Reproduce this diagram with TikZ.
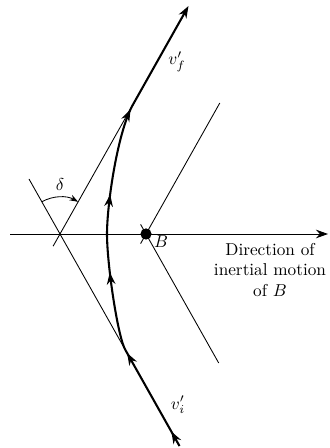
\documentclass[tikz,border=0pt]{standalone}
\usepackage{amsmath}
\usetikzlibrary{arrows.meta, decorations.markings}
\tikzset{
  thinline/.style={line width=0.5pt},
  orbit/.style={line width=1.2pt},
  tip/.style={-{Stealth[length=7pt,width=5pt]}},
  orbitheads/.style={postaction={decorate}, decoration={markings,
    mark=at position 0.035 with {\arrow{Stealth[length=7pt,width=5pt]}},
    mark=at position 0.225 with {\arrow{Stealth[length=7pt,width=5pt]}},
    mark=at position 0.40 with {\arrow{Stealth[length=7pt,width=5pt]}},
    mark=at position 0.565 with {\arrow{Stealth[length=7pt,width=5pt]}},
    mark=at position 0.75 with {\arrow{Stealth[length=7pt,width=5pt]}}}},
}
\begin{document}
\begin{tikzpicture}[x=0.0204cm, y=0.0204cm]
	\useasboundingbox (0,0) rectangle (329,448);
	% crossing points on the line of motion
	\coordinate (X) at (60,214);
	\node[circle, fill, inner sep=0pt, minimum size=6.5pt] (B) at (146,214) {};
	\coordinate (lineL) at (10,214);
	\coordinate (lineR) at (328,214);
	% asymptotes through X
	\coordinate (asyUp) at (133.3,344);
	\coordinate (asyUpBack) at (53.1,201.8);
	\coordinate (asyDown) at (125.4,98);
	\coordinate (asyDownBack) at (29,269);
	% parallels through B
	\coordinate (parUp) at (219.8,345);
	\coordinate (parUpBack) at (140.6,204.4);
	\coordinate (parDown) at (218.7,85);
	\coordinate (parDownBack) at (140.6,223.6);
	% orbit
	\coordinate (inStart) at (179.5,2);
	\coordinate (vertex) at (107,214);
	\coordinate (outEnd) at (188.5,442);

	\draw[thinline, tip] (lineL) -- (lineR);
	\draw[thinline] (asyDownBack) -- (X) -- (asyDown);
	\draw[thinline] (asyUpBack) -- (X) -- (asyUp);
	\draw[thinline] (parUpBack) -- (B.center) -- (parUp);
	\draw[thinline] (parDownBack) -- (B.center) -- (parDown);

	\draw[orbit, tip, orbitheads] (inStart) -- (asyDown) .. controls (118,110) and (107,183) .. (vertex)
		.. controls (107,245) and (118,318) .. (asyUp) -- (outEnd);

	% angle delta
	\draw[thinline, -{Stealth[length=5pt,width=3.5pt]}] (41.8,246.2) arc[start angle=119.4, end angle=60.6, radius=37];
	\node (delta) at (60,263) {$\delta$};

	\node (vf) at (177,386) {$v'_f$};
	\node (vi) at (178,43) {$v'_i$};
	\node (Blabel) at (161,206) {$B$};
	\node[align=center] (motion) at (270,178) {Direction of\\inertial motion\\of $B$};
\end{tikzpicture}
\end{document}
